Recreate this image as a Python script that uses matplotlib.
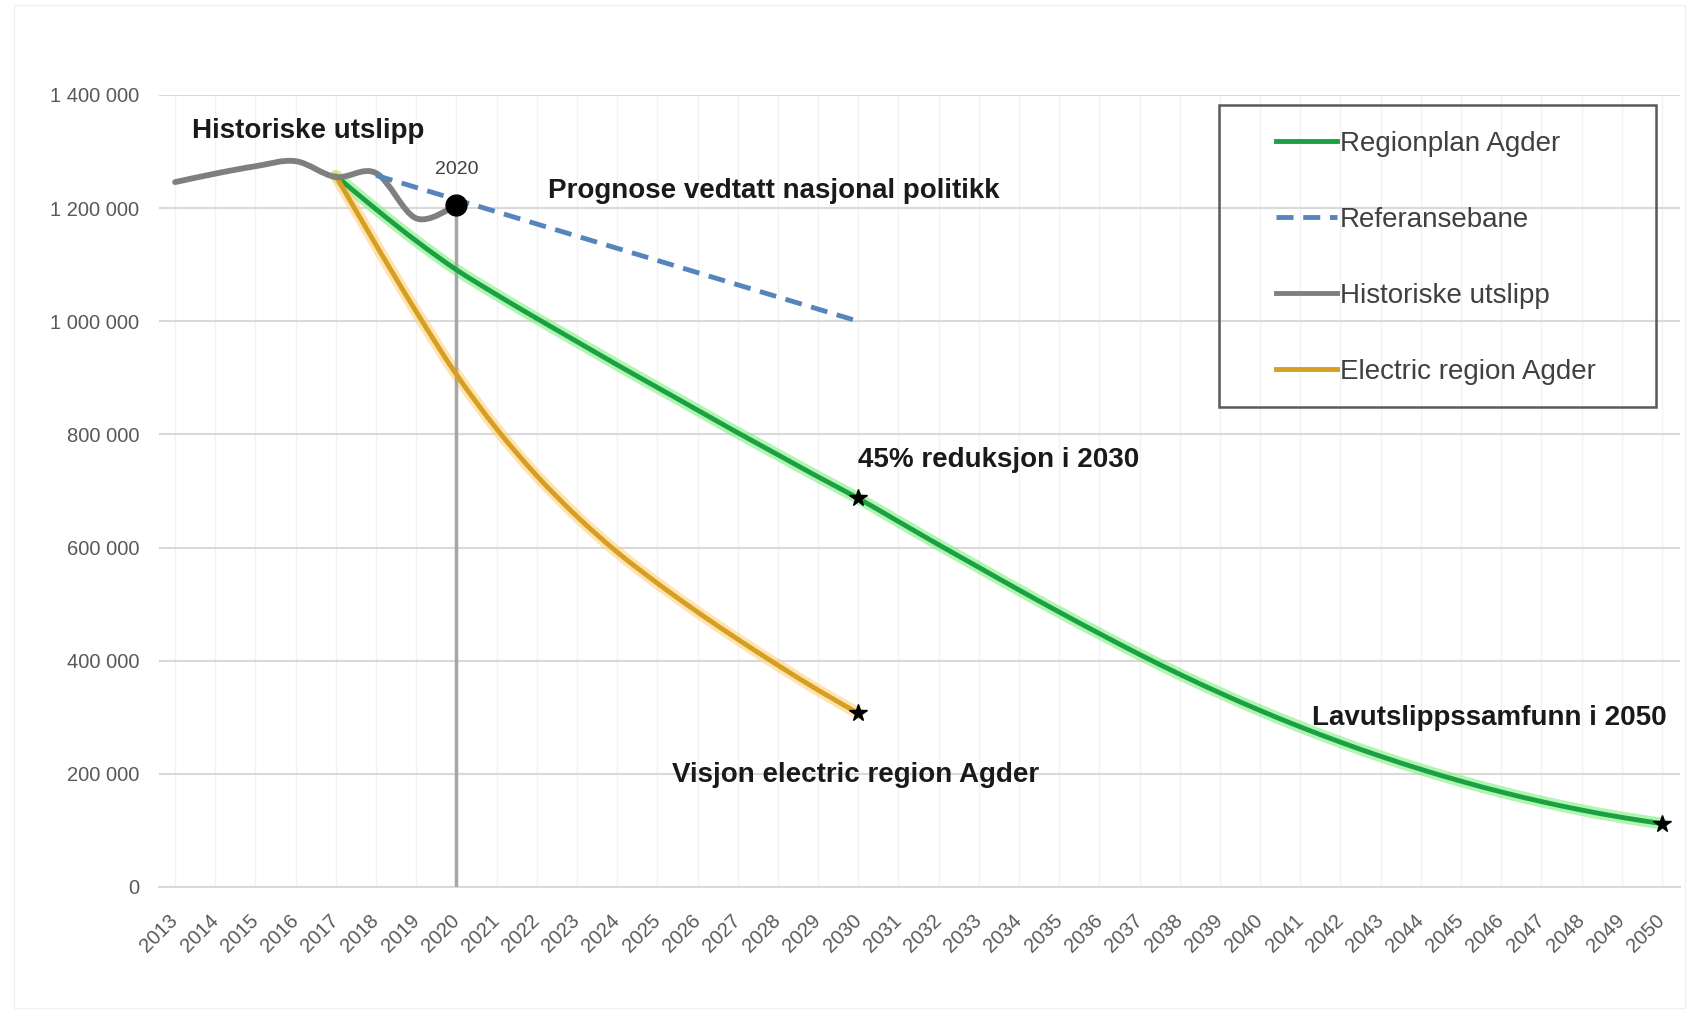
import matplotlib
matplotlib.use("Agg")
import matplotlib.pyplot as plt
from matplotlib.path import Path
from matplotlib.patches import PathPatch, Rectangle
from matplotlib.lines import Line2D
from matplotlib.ticker import FuncFormatter

plt.rcParams['font.family'] = ['Liberation Sans', 'DejaVu Sans']

# data (tonn CO2-ekv.)
years_all = list(range(2013, 2051))

hist_years = [2013, 2014, 2015, 2016, 2017, 2018, 2019, 2020]
hist_vals = [1246000, 1261000, 1274000, 1283000, 1255000, 1262000, 1182000, 1205000]

ref_years = [2018, 2030]
ref_vals = [1258000, 1000000]

green_years = list(range(2017, 2051))
green_vals = [1257000, 1198000, 1142000, 1091000, 1047000, 1005000, 964000, 923000,
              883000, 843000, 803000, 764000, 725000, 687000,
              646000, 605000, 565000, 525000, 486000, 448000, 411000, 376000,
              343000, 312000, 283000, 256000, 231000, 208000, 187000, 168000,
              151000, 136000, 123000, 112000]

orange_years = list(range(2017, 2031))
orange_vals = [1257000, 1135000, 1017000, 906000, 810000, 727000, 655000, 592000,
               537000, 486000, 438000, 392000, 348000, 307000]

dot_2020 = (2020, 1205000)
stars_x = [2030, 2030, 2050]
stars_y = [687000, 307000, 112000]

legend_labels = ["Regionplan Agder", "Referansebane", "Historiske utslipp",
                 "Electric region Agder"]


def smooth_path(xs, ys):
    # Excel-like smoothed line: cubic Bezier segments through the points
    pts = list(zip(xs, ys))
    verts = [pts[0]]
    codes = [Path.MOVETO]
    n = len(pts)
    for i in range(n - 1):
        p0 = pts[i - 1] if i > 0 else pts[i]
        p1 = pts[i]
        p2 = pts[i + 1]
        p3 = pts[i + 2] if i + 2 < n else pts[i + 1]
        c1 = (p1[0] + (p2[0] - p0[0]) / 6, p1[1] + (p2[1] - p0[1]) / 6)
        c2 = (p2[0] - (p3[0] - p1[0]) / 6, p2[1] - (p3[1] - p1[1]) / 6)
        verts += [c1, c2, p2]
        codes += [Path.CURVE4] * 3
    return Path(verts, codes)


def add_curve(ax, xs, ys, color, lw, z, glow=None):
    if glow:
        ax.add_patch(PathPatch(smooth_path(xs, ys), fill=False, edgecolor=glow,
                               lw=lw + 5, alpha=0.6, capstyle='round',
                               joinstyle='round', zorder=z - 1))
    ax.add_patch(PathPatch(smooth_path(xs, ys), fill=False, edgecolor=color, lw=lw,
                           capstyle='round', joinstyle='round', zorder=z))


fig = plt.figure(figsize=(16.88, 10.18), dpi=100)
ax = fig.add_axes([0.0942, 0.1287, 0.9011, 0.778])

green = '#1BA043'
orange = '#D69E22'
gray = '#7F7F7F'
blue = '#5585BA'

add_curve(ax, green_years, green_vals, green, 3.5, 4, glow='#7CF07C')
add_curve(ax, orange_years, orange_vals, orange, 3.5, 4, glow='#FFD27A')
add_curve(ax, hist_years, hist_vals, gray, 4.2, 5)
ax.plot(ref_years, ref_vals, color=blue, lw=3.5, dashes=(3.5, 2), zorder=6)

ax.vlines(dot_2020[0], 0, dot_2020[1], color='#A6A6A6', lw=2.5, zorder=3)
ax.plot(*dot_2020, 'o', color='black', ms=15, zorder=7)
ax.plot(stars_x, stars_y, '*', color='black', ms=13, ls='none', zorder=7)

ax.set_xlim(2012.6, 2050.45)
ax.set_ylim(0, 1400000)
ax.set_xticks(years_all)
ax.set_xticklabels([str(y) for y in years_all], rotation=45, ha='right',
                   va='center', rotation_mode='anchor')
ax.set_yticks(range(0, 1400001, 200000))
ax.yaxis.set_major_formatter(FuncFormatter(lambda v, p: f"{v:,.0f}".replace(",", " ")))
ax.tick_params(axis='y', length=0, pad=14, labelsize=14.5, labelcolor='#595959')
ax.tick_params(axis='x', length=0, pad=22, labelsize=14.5, labelcolor='#595959')

ax.grid(axis='y', color='#D9D9D9', lw=1.5)
ax.grid(axis='x', color='#F2F2F2', lw=1)
ax.set_axisbelow(True)
for s in ['top', 'right', 'left']:
    ax.spines[s].set_visible(False)
ax.spines['bottom'].set_color('#D9D9D9')
ax.spines['bottom'].set_linewidth(1.5)

# text labels in the chart
bold = dict(fontsize=20, fontweight='bold', color='#1a1a1a', va='center', ha='left')
ax.text(2013.41, 1337000, "Historiske utslipp", **bold)
ax.text(2022.29, 1231000, "Prognose vedtatt nasjonal politikk", **bold)
ax.text(2030.0, 754000, "45% reduksjon i 2030", **bold)
ax.text(2041.29, 299000, "Lavutslippssamfunn i 2050", **bold)
ax.text(2025.37, 198000, "Visjon electric region Agder", **bold)
ax.text(2020.0, 1269000, "2020", fontsize=14, color='#404040', ha='center', va='center')

# legend with its own box
handles = [Line2D([], [], color=green, lw=3.5),
           Line2D([], [], color=blue, lw=3.5, dashes=(3.5, 2)),
           Line2D([], [], color=gray, lw=3.5),
           Line2D([], [], color=orange, lw=3.5)]
leg = ax.legend(handles, legend_labels, loc='upper left', bbox_to_anchor=(0.716, 0.99),
                frameon=False, fontsize=20, handlelength=2.2, handletextpad=0.1,
                labelspacing=1.8, borderpad=0.5, labelcolor='#404040')
ax.add_patch(Rectangle((0.697, 0.606), 0.287, 0.381, transform=ax.transAxes, fill=False,
                       edgecolor='#595959', lw=1.8, zorder=8, clip_on=False))

fig.patches.append(Rectangle((0.008, 0.01), 0.99, 0.985, transform=fig.transFigure,
                             fill=False, edgecolor='#F0F0F0', lw=1))

fig.savefig('out.png', dpi=100)
